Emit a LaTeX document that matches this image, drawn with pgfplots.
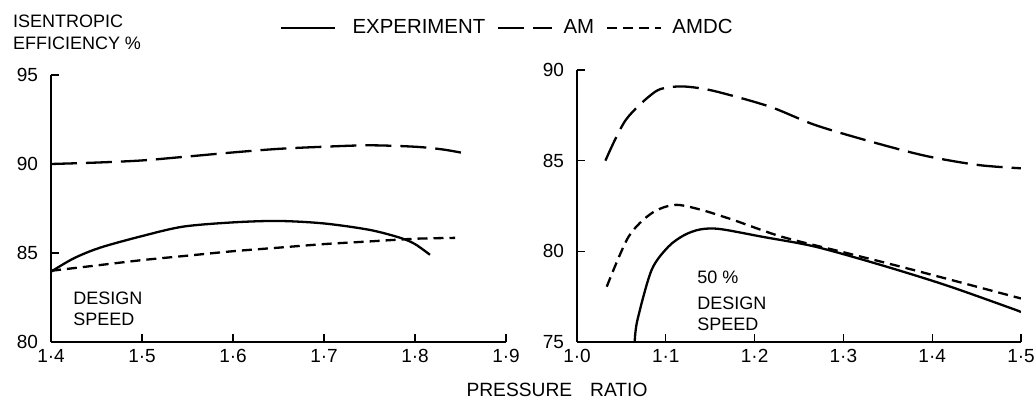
\documentclass[border=0pt]{standalone}
\usepackage{fontspec}
\setmainfont{Liberation Sans}
\usepackage{pgfplots}
\pgfplotsset{compat=1.18}
\begin{document}
\begin{tikzpicture}[font=\fontsize{9}{10.5}\selectfont]
\path[use as bounding box] (0pt,0pt) rectangle (517.5pt,203.5pt);
\pgfplotsset{
  myax/.style={
    scale only axis,
    axis x line=bottom, axis y line=left,
    axis line style={-, line width=1.4pt, black},
    tick align=inside,
    major tick length=4pt,
    every tick/.style={line width=0.6pt, black},
    /pgf/number format/assume math mode=true,
    every tick label/.append style={font=\fontsize{9.5}{11}\selectfont},
    yticklabel style={xshift=-3pt},
    clip=true,
  },
  exp/.style={black, line width=1.15pt, smooth, tension=0.5},
  am/.style={black, line width=1.15pt, dash pattern=on 13pt off 4.5pt, smooth, tension=0.5},
  amdc/.style={black, line width=1.15pt, dash pattern=on 5pt off 3pt, smooth, tension=0.5},
}
% Left panel: design speed
\begin{axis}[myax,
  at={(25.5pt,32.5pt)}, anchor=south west,
  width=227.5pt, height=133.5pt,
  xmin=1.4, xmax=1.9, ymin=80, ymax=95,
  xtick={1.4,1.5,1.6,1.7,1.8,1.9},
  xticklabels={1·4,1·5,1·6,1·7,1·8,1·9},
  ytick={80,85,90,95},
  legend columns=-1,
  legend style={draw=none, fill=none, at={(0.49,1.176)}, anchor=west,
    font=\fontsize{10.2}{12}\selectfont,
    /tikz/every even column/.append style={column sep=5pt},
    nodes={inner sep=1pt}},
  legend image code/.code={\draw[#1, smooth=false] (0pt,0pt) -- (27pt,0pt);},
]
\addplot[exp] coordinates {(1.4,83.95)(1.425,84.7)(1.454,85.3)(1.5,85.95)(1.545,86.48)(1.6,86.72)(1.65,86.8)(1.7,86.66)(1.75,86.3)(1.784,85.85)(1.8,85.5)(1.8165,84.9)};
\addlegendentry{\hspace{7pt}EXPERIMENT}
\addplot[am] coordinates {(1.4,90.0)(1.45,90.08)(1.5,90.2)(1.55,90.42)(1.6,90.65)(1.65,90.85)(1.7,90.97)(1.75,91.05)(1.8,90.97)(1.83,90.82)(1.855,90.6)};
\addlegendentry{\hspace{4pt}AM}
\addplot[amdc] coordinates {(1.4,84.0)(1.45,84.3)(1.5,84.6)(1.55,84.85)(1.6,85.1)(1.65,85.3)(1.7,85.5)(1.75,85.65)(1.8,85.8)(1.844,85.85)};
\addlegendentry{\hspace{4pt}AMDC}
\end{axis}
% Right panel: 50% design speed
\begin{axis}[myax,
  at={(288.5pt,32.5pt)}, anchor=south west,
  width=222pt, height=136pt,
  xmin=1.0, xmax=1.5, ymin=75, ymax=90,
  xtick={1.0,1.1,1.2,1.3,1.4,1.5},
  xticklabels={1·0,1·1,1·2,1·3,1·4,1·5},
  ytick={75,80,85,90},
]
\addplot[exp] coordinates {(1.065,75)(1.068,76.2)(1.084,78.97)(1.103,80.26)(1.121,80.9)(1.139,81.21)(1.161,81.23)(1.209,80.8)(1.268,80.26)(1.342,79.25)(1.415,78.14)(1.489,76.86)(1.5,76.65)};
\addplot[am] coordinates {(1.032,85.0)(1.055,87.25)(1.088,88.8)(1.11,89.08)(1.13,89.05)(1.158,88.8)(1.217,87.98)(1.268,86.97)(1.331,86.05)(1.393,85.26)(1.452,84.76)(1.5,84.58)};
\addplot[amdc] coordinates {(1.0335,78.05)(1.058,80.8)(1.084,82.1)(1.11,82.56)(1.139,82.3)(1.176,81.73)(1.231,80.8)(1.305,79.89)(1.379,78.97)(1.5,77.4)};
\end{axis}
\node[anchor=base west, inner sep=0pt] at (6.3pt,189.5pt) {ISENTROPIC};
\node[anchor=base west, inner sep=0pt] at (6.3pt,178.5pt) {EFFICIENCY \%};
\node[anchor=base west, inner sep=0pt] at (36.5pt,51pt) {DESIGN};
\node[anchor=base west, inner sep=0pt] at (36.5pt,40.5pt) {SPEED};
\node[anchor=base west, inner sep=0pt] at (348.5pt,61.5pt) {50 \%};
\node[anchor=base west, inner sep=0pt] at (348.5pt,48.5pt) {DESIGN};
\node[anchor=base west, inner sep=0pt] at (348.5pt,38pt) {SPEED};
\node[anchor=base, inner sep=0pt] at (278.5pt,5pt) {\fontsize{9.6}{11}\selectfont PRESSURE\hspace{9pt}RATIO};
\end{tikzpicture}
\end{document}
